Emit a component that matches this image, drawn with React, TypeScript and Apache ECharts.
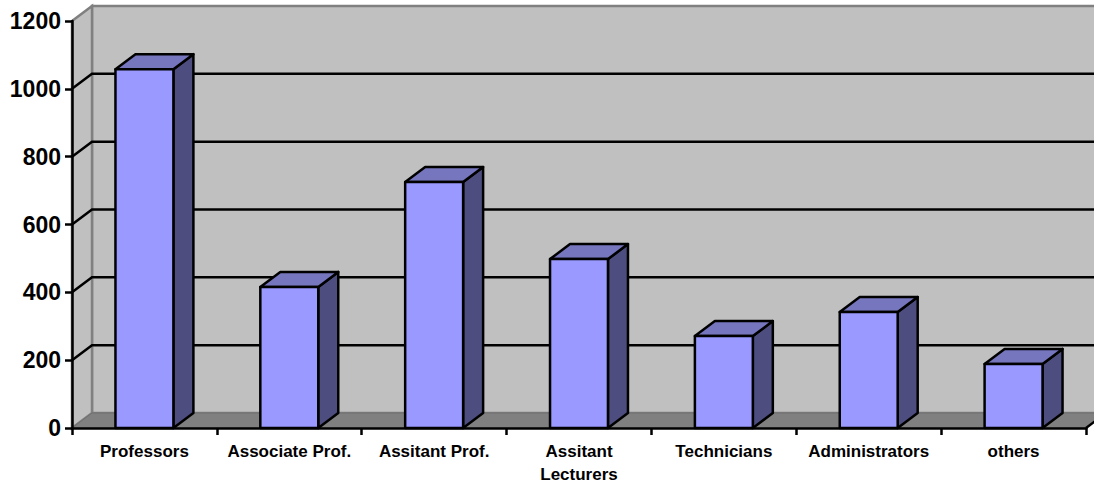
import React, { useEffect, useRef } from "react";
import * as echarts from "echarts";

const categories = [
  "Professors",
  "Associate Prof.",
  "Assitant Prof.",
  "Assitant\nLecturers",
  "Technicians",
  "Administrators",
  "others",
];
const staffValues = [1058, 416, 725, 498, 271, 342, 189];
const gridValues = [200, 400, 600, 800, 1000];
const FONT = '"Liberation Sans", Arial, sans-serif';
const DX = 20;
const DY = -15;
const BAR_RATIO = 0.4;

function renderWalls(params: any, api: any) {
  const cs = params.coordSys;
  const x0 = cs.x;
  const x1 = cs.x + cs.width;
  const yB = cs.y + cs.height;
  const yT = cs.y;
  const right = x1 + DX;
  const children: any[] = [
    { type: "polygon", shape: { points: [[x0 + DX, yT + DY], [right, yT + DY], [right, yB + DY], [x0 + DX, yB + DY]] }, style: { fill: "#c0c0c0", stroke: "#808080", lineWidth: 2.5 } },
    { type: "polygon", shape: { points: [[x0, yT], [x0 + DX, yT + DY], [x0 + DX, yB + DY], [x0, yB]] }, style: { fill: "#c0c0c0", stroke: "#808080", lineWidth: 2.5 } },
    { type: "polygon", shape: { points: [[x0, yB], [x0 + DX, yB + DY], [right, yB + DY], [x1, yB]] }, style: { fill: "#808080", stroke: "#6e6e6e", lineWidth: 1 } },
    { type: "line", shape: { x1: x1, y1: yB, x2: right, y2: yB + DY }, style: { stroke: "#000", lineWidth: 2.5 } },
  ];
  gridValues.forEach((v) => {
    const y = api.coord([0, v])[1];
    children.push({
      type: "polyline",
      shape: { points: [[x0, y], [x0 + DX, y + DY], [right, y + DY]] },
      style: { fill: "none", stroke: "#000", lineWidth: 2.5 },
    });
  });
  return { type: "group", children };
}

function renderBar(params: any, api: any) {
  const idx = api.value(0);
  const val = api.value(1);
  const band = api.size([1, 0])[0];
  const w = band * BAR_RATIO;
  const c = api.coord([idx, val]);
  const b = api.coord([idx, 0]);
  const l = c[0] - w / 2;
  const r = c[0] + w / 2;
  const t = c[1];
  const bt = b[1];
  const line = { stroke: "#000", lineWidth: 2.5, lineJoin: "round" };
  return {
    type: "group",
    children: [
      { type: "polygon", shape: { points: [[r, t], [r + DX, t + DY], [r + DX, bt + DY], [r, bt]] }, style: { fill: "#4d4d80", ...line } },
      { type: "polygon", shape: { points: [[l, t], [l + DX, t + DY], [r + DX, t + DY], [r, t]] }, style: { fill: "#7676bf", ...line } },
      { type: "polygon", shape: { points: [[l, t], [r, t], [r, bt], [l, bt]] }, style: { fill: "#9999ff", ...line } },
    ],
  };
}

export default function App() {
  const ref = useRef<HTMLDivElement>(null);
  useEffect(() => {
    const chart = echarts.init(ref.current!, undefined, { renderer: "svg" });
    chart.setOption({
      animation: false,
      backgroundColor: "#ffffff",
      grid: { left: 72, right: 8, top: 21, bottom: 54, containLabel: false, outerBoundsMode: "none" },
      xAxis: {
        type: "category",
        data: categories,
        boundaryGap: true,
        axisLine: { lineStyle: { color: "#000", width: 2.5 } },
        axisTick: { show: true, length: 7, alignWithLabel: false, lineStyle: { color: "#000", width: 2.5 } },
        axisLabel: { interval: 0, color: "#000", fontFamily: FONT, fontWeight: "bold", fontSize: 17, lineHeight: 23, margin: 11.5 },
        z: 5,
      },
      yAxis: {
        type: "value",
        min: 0,
        max: 1200,
        interval: 200,
        axisLine: { show: true, lineStyle: { color: "#000", width: 2.5 } },
        axisTick: { show: true, length: 7, lineStyle: { color: "#000", width: 2.5 } },
        axisLabel: { color: "#000", fontFamily: FONT, fontWeight: "bold", fontSize: 23, margin: 11, formatter: (v: number) => String(v) },
        splitLine: { show: false },
        z: 5,
      },
      series: [
        { type: "custom", name: "walls", renderItem: renderWalls, data: [[0, 0]], encode: { x: 0, y: 1 }, z: 1, silent: true },
        { type: "custom", name: "Staff", renderItem: renderBar, data: staffValues.map((v, i) => [i, v]), encode: { x: 0, y: 1 }, z: 2 },
      ],
    });
    return () => chart.dispose();
  }, []);
  return <div ref={ref} style={{ position: "absolute", left: 0, top: 0, width: 1094, height: 482 }} />;
}
